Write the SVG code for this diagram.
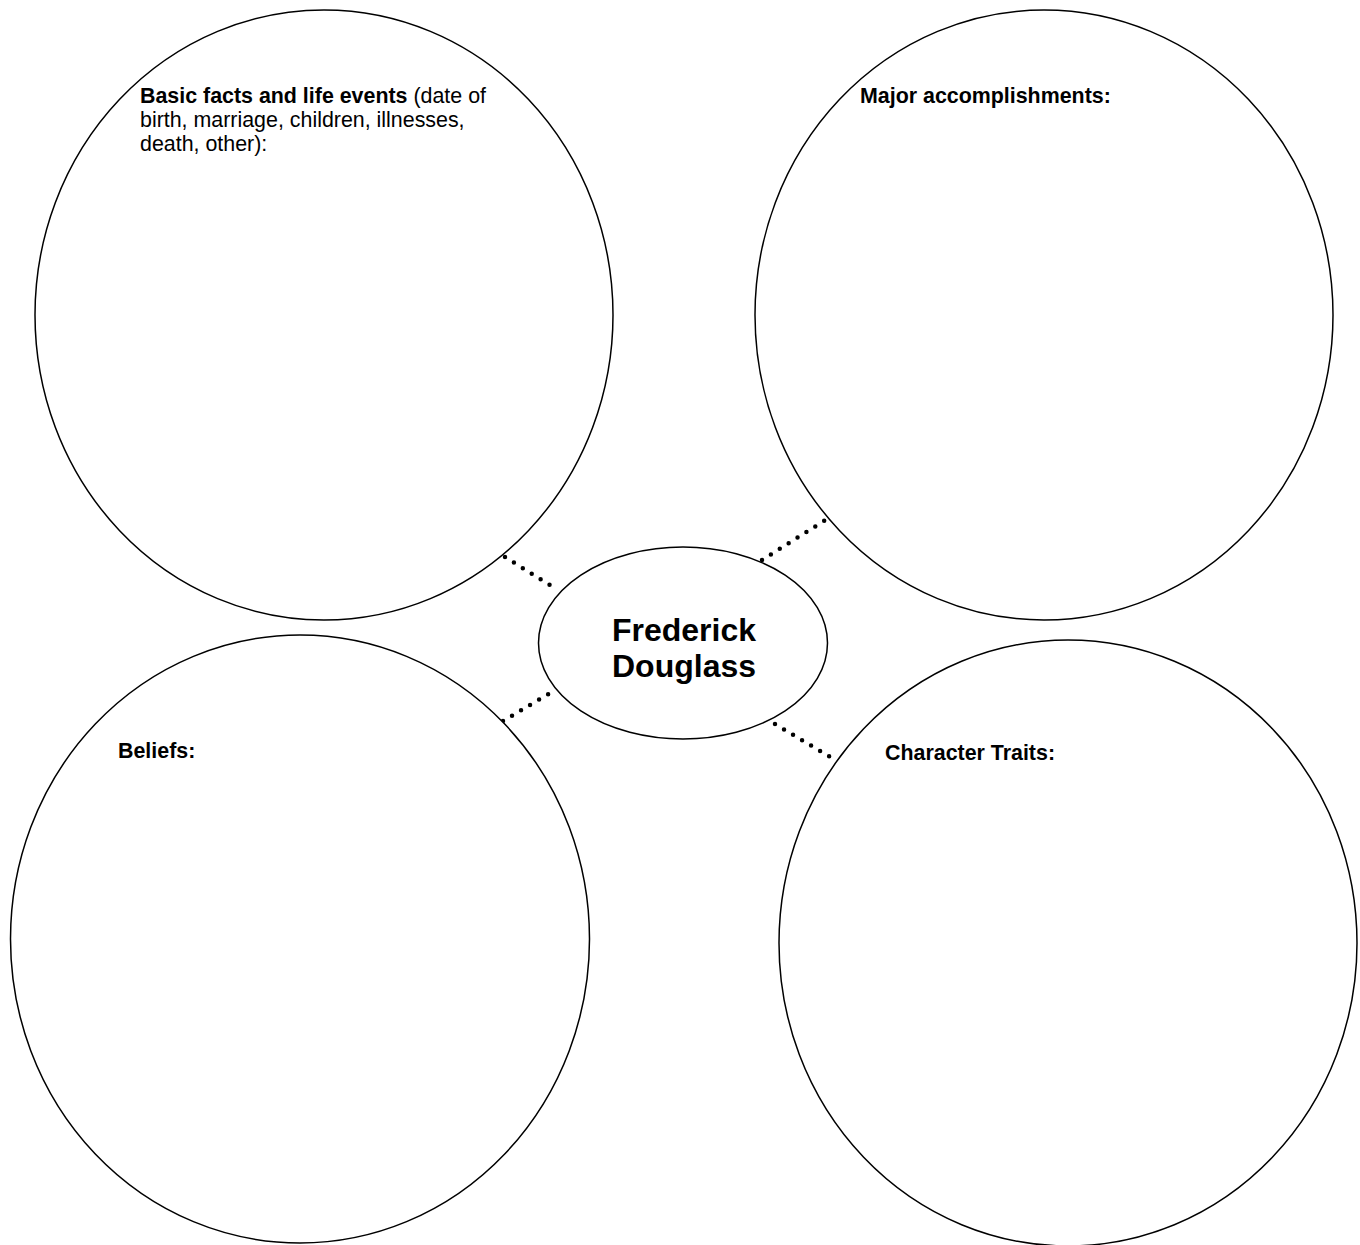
<svg xmlns="http://www.w3.org/2000/svg" width="1360" height="1245" viewBox="0 0 1360 1245">
<style>
.shape{fill:#fff;stroke:#000;stroke-width:1.5}
.dot{fill:none;stroke:#000;stroke-width:4.5;stroke-linecap:round;stroke-dasharray:0 10.5}
.lbl{font-family:"Liberation Sans",Arial,sans-serif;font-size:21.4px;fill:#000}
.b{font-weight:bold}
.title{font-family:"Liberation Sans",Arial,sans-serif;font-size:32px;font-weight:bold;fill:#000;text-anchor:middle}
</style>
<rect width="1360" height="1245" fill="#fff"/>
<g id="connectors">
<line class="dot" x1="505" y1="557" x2="553" y2="587"/>
<line class="dot" x1="762" y1="560" x2="827" y2="519"/>
<line class="dot" x1="503" y1="721" x2="550" y2="693"/>
<line class="dot" x1="775" y1="724" x2="832" y2="758"/>
</g>
<g id="basic-facts">
<ellipse class="shape" cx="324" cy="315" rx="289" ry="305"/>
<text class="lbl" x="140" y="103"><tspan class="b">Basic facts and life events</tspan> (date of</text>
<text class="lbl" x="140" y="127">birth, marriage, children, illnesses,</text>
<text class="lbl" x="140" y="151">death, other):</text>
</g>
<g id="accomplishments">
<ellipse class="shape" cx="1044" cy="315" rx="289" ry="305"/>
<text class="lbl b" x="860" y="103">Major accomplishments:</text>
</g>
<g id="beliefs">
<ellipse class="shape" cx="300" cy="939" rx="289.5" ry="304"/>
<text class="lbl b" x="118" y="758">Beliefs:</text>
</g>
<g id="traits">
<ellipse class="shape" cx="1068" cy="943" rx="289" ry="303"/>
<text class="lbl b" x="885" y="760">Character Traits:</text>
</g>
<g id="center">
<ellipse class="shape" cx="683" cy="643" rx="144.5" ry="96"/>
<text class="title" x="684" y="641">Frederick</text>
<text class="title" x="684" y="677">Douglass</text>
</g>
</svg>
